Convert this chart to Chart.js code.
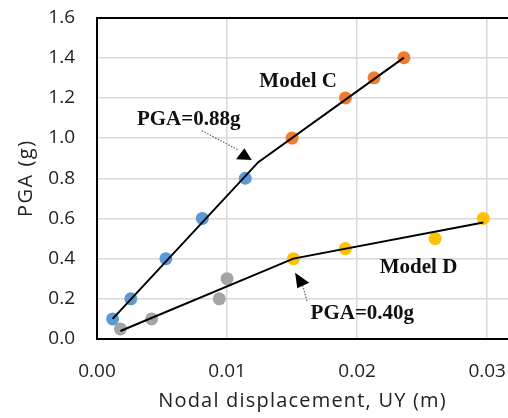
<!DOCTYPE html>
<html>
<head>
<meta charset="utf-8">
<script src="https://cdn.jsdelivr.net/npm/chart.js@4/dist/chart.umd.min.js"></script>
<style>
  html, body { margin: 0; padding: 0; background: #fff; overflow: hidden; }
  #wrap { width: 508px; height: 418px; }
</style>
</head>
<body>
<div id="wrap"><canvas id="pgaChart" width="508" height="418"></canvas></div>
<script>
// points: [displacement (m), PGA (g)]
var modelCLow  = [[0.0012, 0.1], [0.0026, 0.2], [0.0053, 0.4], [0.0081, 0.6], [0.0114, 0.8]];
var modelCHigh = [[0.0150, 1.0], [0.0191, 1.2], [0.0213, 1.3], [0.0236, 1.4]];
var modelDLow  = [[0.0018, 0.05], [0.0042, 0.1], [0.0094, 0.2], [0.0100, 0.3]];
var modelDHigh = [[0.0151, 0.4], [0.0191, 0.45], [0.0260, 0.5], [0.0297, 0.6]];
// bilinear fit lines
var modelCFit = [[0.0012, 0.1], [0.0124, 0.88], [0.0236, 1.4]];
var modelDFit = [[0.0018, 0.04], [0.0151, 0.40], [0.0297, 0.58]];

var xTicks = [0, 0.01, 0.02, 0.03];
var yTicks = [0, 0.2, 0.4, 0.6, 0.8, 1.0, 1.2, 1.4, 1.6];
var xTitle = 'Nodal displacement, UY (m)';
var yTitle = 'PGA (g)';

// labels and arrows, placed in data units
var notes = [
  { text: "Model C",   x: 0.01248, y: 1.253 },
  { text: "PGA=0.88g", x: 0.00307, y: 1.065 },
  { text: "Model D",   x: 0.02174, y: 0.327 },
  { text: "PGA=0.40g", x: 0.01642, y: 0.098 }
];
var arrows = [
  { from: [0.00806, 1.037], to: [0.01084, 0.941], head: [[0.01069, 0.8945], [0.01190, 0.891], [0.01133, 0.949]] },
  { from: [0.01614, 0.189], to: [0.01583, 0.264], head: [[0.01523, 0.330], [0.01632, 0.280], [0.01540, 0.252]] }
];

function toXY(list) {
  return list.map(function(p) { return { x: p[0], y: p[1] }; });
}

function dots(label, list, color) {
  return {
    type: 'scatter',
    label: label,
    data: toXY(list),
    backgroundColor: color,
    borderColor: color,
    pointRadius: 6.5,
    pointBorderWidth: 0,
    order: 2
  };
}

function fit(label, list) {
  return {
    type: 'line',
    label: label,
    data: toXY(list),
    borderColor: '#000',
    borderWidth: 2,
    pointRadius: 0,
    fill: false,
    tension: 0,
    order: 1
  };
}

var axisFont = '20px "Open Sans", sans-serif';

// the plot area runs off the right edge of the picture, so push it to the canvas edge
var stretchPlugin = {
  id: 'stretch',
  afterLayout: function(chart) {
    var xs = chart.scales.x;
    var w = chart.width;
    chart.chartArea.right = w;
    chart.chartArea.width = w - chart.chartArea.left;
    xs.right = w;
    xs.width = w - xs.left;
    xs.configure();
  }
};

var notesPlugin = {
  id: 'notes',
  afterDatasetsDraw: function(chart) {
    var ctx = chart.ctx;
    var xs = chart.scales.x, ys = chart.scales.y;
    var area = chart.chartArea;
    function px(p) { return [xs.getPixelForValue(p[0]), ys.getPixelForValue(p[1])]; }
    ctx.save();
    arrows.forEach(function(a) {
      var f = px(a.from), t = px(a.to);
      ctx.beginPath();
      ctx.setLineDash([1.5, 1.5]);
      ctx.strokeStyle = '#666';
      ctx.lineWidth = 1.2;
      ctx.moveTo(f[0], f[1]);
      ctx.lineTo(t[0], t[1]);
      ctx.stroke();
      ctx.setLineDash([]);
      ctx.beginPath();
      a.head.forEach(function(h, i) {
        var q = px(h);
        if (i === 0) ctx.moveTo(q[0], q[1]); else ctx.lineTo(q[0], q[1]);
      });
      ctx.closePath();
      ctx.fillStyle = '#000';
      ctx.fill();
    });
    ctx.font = 'bold 21px "Liberation Serif", "Times New Roman", serif';
    ctx.fillStyle = '#111';
    ctx.textAlign = 'left';
    ctx.textBaseline = 'alphabetic';
    notes.forEach(function(n) {
      var p = px([n.x, n.y]);
      ctx.fillText(n.text, p[0], p[1]);
    });

    // axis titles (drawn here to get the wider spacing of the original)
    ctx.font = axisFont;
    ctx.fillStyle = '#222';
    ctx.textAlign = 'center';
    ctx.letterSpacing = '1.2px';
    ctx.fillText(xTitle, (area.left + area.right) / 2, 407);
    ctx.translate(31.5, (area.top + area.bottom) / 2);
    ctx.rotate(-Math.PI / 2);
    ctx.letterSpacing = '1.5px';
    ctx.fillText(yTitle, 0, 0);
    ctx.restore();
  }
};

var tickFont = { family: '"Open Sans", sans-serif', size: 19 };

var chart = new Chart(document.getElementById('pgaChart').getContext('2d'), {
  data: {
    datasets: [
      fit('Model C fit', modelCFit),
      fit('Model D fit', modelDFit),
      dots('Model C (low)', modelCLow, '#5b9bd5'),
      dots('Model C (high)', modelCHigh, '#ed7d31'),
      dots('Model D (low)', modelDLow, '#a5a5a5'),
      dots('Model D (high)', modelDHigh, '#ffc000')
    ]
  },
  options: {
    responsive: false,
    animation: false,
    layout: { padding: { top: 17.5, right: 0, left: 0, bottom: 0 } },
    plugins: { legend: { display: false }, tooltip: { enabled: false } },
    scales: {
      x: {
        type: 'linear',
        min: 0,
        max: 0.0316,
        afterBuildTicks: function(axis) { axis.ticks = xTicks.map(function(v) { return { value: v }; }); },
        afterFit: function(axis) {
          axis.height = 79;
          axis.paddingLeft = 0;
          axis.paddingRight = 0;
        },
        ticks: {
          padding: 21,
          color: '#222',
          font: tickFont,
          callback: function(v) { return v.toFixed(2); }
        },
        grid: {
          drawTicks: false,
          lineWidth: 1.5,
          color: function(c) { return c.tick && c.tick.value === 0 ? '#000' : '#d9d9d9'; }
        },
        border: { display: true, color: '#000', width: 2 }
      },
      y: {
        type: 'linear',
        min: 0,
        max: 1.6,
        afterBuildTicks: function(axis) { axis.ticks = yTicks.map(function(v) { return { value: v }; }); },
        afterFit: function(axis) {
          axis.width = 97;
          axis.paddingTop = 0;
          axis.paddingBottom = 0;
        },
        ticks: {
          padding: 22,
          color: '#222',
          font: tickFont,
          callback: function(v) { return v.toFixed(1); }
        },
        grid: {
          drawTicks: false,
          lineWidth: function(c) { return c.tick && (c.tick.value === 1.6 || c.tick.value === 0) ? 2 : 1.5; },
          color: function(c) { return c.tick && (c.tick.value === 1.6 || c.tick.value === 0) ? '#000' : '#d9d9d9'; }
        },
        border: { display: true, color: '#000', width: 2 }
      }
    }
  },
  plugins: [stretchPlugin, notesPlugin]
});
</script>
</body>
</html>
